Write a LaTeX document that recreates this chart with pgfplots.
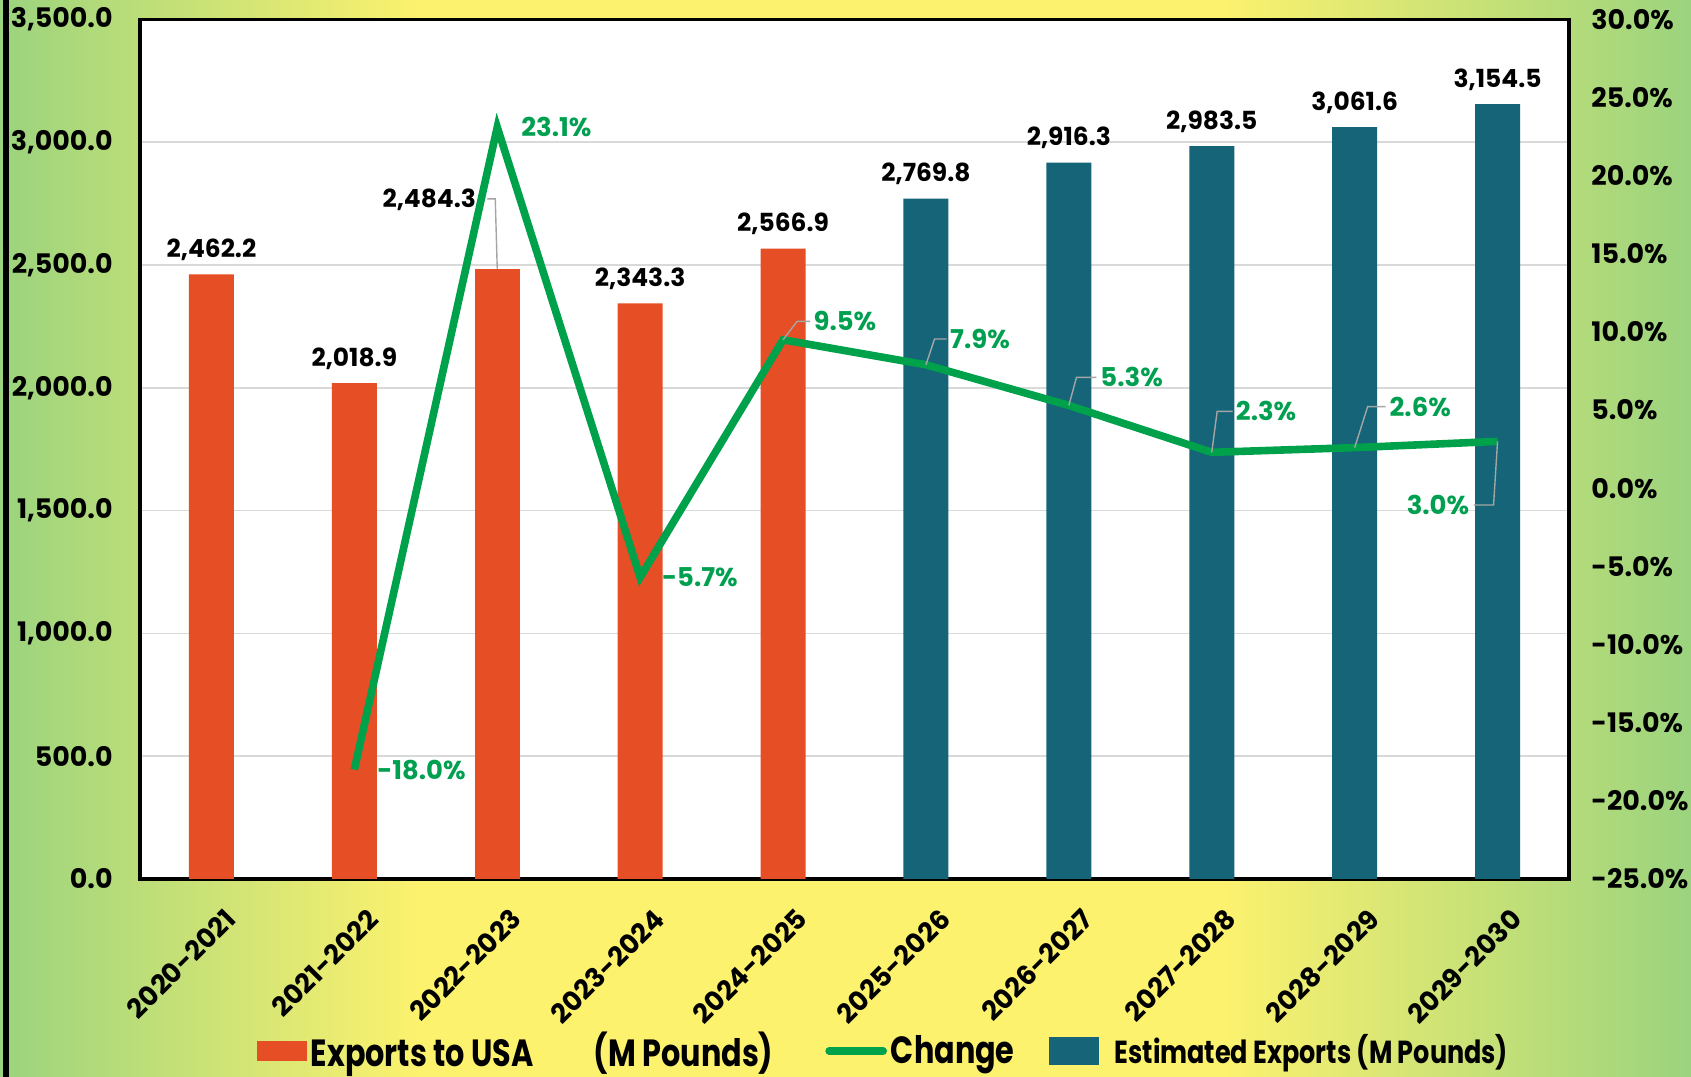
\documentclass[border=0pt]{standalone}
\usepackage{fontspec}
\setmainfont{Poppins}
\newfontfamily\condfont[FakeStretch=0.8]{Poppins}
\usepackage{pgfplots}
\usepackage{pgfplotstable}
\pgfplotsset{compat=1.18}
\definecolor{bgG}{RGB}{155,211,126}
\definecolor{bgY}{RGB}{253,242,110}
\definecolor{barO}{RGB}{230,78,38}
\definecolor{barT}{RGB}{21,100,120}
\definecolor{lineG}{RGB}{0,161,75}
\definecolor{pctG}{RGB}{0,160,80}
\definecolor{gridG}{RGB}{217,217,217}
\definecolor{leadG}{RGB}{165,165,165}

\pgfplotstableread{
x y
0 2462.2
1 2018.9
3 2343.3
4 2566.9
}\actual
\pgfplotstableread{
x y
2 2484.3
}\actualB
\pgfplotstableread{
x y
5 2769.8
6 2916.3
7 2983.5
8 3061.6
9 3154.5
}\est
\pgfplotstableread{
x y
1 -18.0
2 23.1
3 -5.7
4 9.5
5 7.9
6 5.3
7 2.3
8 2.6
9 3.0
}\chg

\tikzset{
  pct/.style={font=\fontsize{13}{15}\selectfont\bfseries, text=pctG, inner sep=0pt},
  lead/.style={leadG, line width=0.7bp},
  barlab/.style={font=\fontsize{12.5}{15}\selectfont\bfseries, text=black, inner sep=0pt, anchor=base},
}
\begin{document}
\begin{tikzpicture}
\useasboundingbox (0,0) rectangle (845.5bp,538.5bp);
\shade[left color=bgG, right color=bgY] (0,0) rectangle (211bp,538.5bp);
\fill[bgY] (210.5bp,0) rectangle (609.5bp,538.5bp);
\shade[left color=bgY, right color=bgG] (609bp,0) rectangle (845.5bp,538.5bp);
\fill[black] (1.5bp,0) rectangle (4.5bp,538.5bp);
\pgfplotsset{
  common/.style={
    at={(70bp,99bp)}, anchor=south west,
    scale only axis, width=714.5bp, height=429.8bp,
    xmin=-0.5, xmax=9.5,
    tick label style={font=\fontsize{13.5}{16}\selectfont\bfseries},
    /pgf/number format/assume math mode=true,
    /pgf/number format/fixed,
    /pgf/number format/fixed zerofill,
    /pgf/number format/precision=1,
    /pgf/number format/1000 sep={,},
    major tick length=0pt,
  },
}
\begin{axis}[common,
  axis background/.style={fill=white},
  ymin=0, ymax=3500, ytick={0,500,...,3500},
  ymajorgrids, grid style={gridG, line width=0.8bp},
  axis line style={black, line width=1.6bp},
  xtick={0,...,9},
  xticklabels={2020-2021,2021-2022,2022-2023,2023-2024,2024-2025,2025-2026,2026-2027,2027-2028,2028-2029,2029-2030},
  xticklabel style={rotate=45, anchor=north east, inner sep=0pt, xshift=-5.5bp, yshift=-14bp},
  yticklabel style={anchor=east, inner sep=0pt, xshift=-13.5bp},
  legend columns=3,
  legend style={at={(0.521,-0.2),}, anchor=center, draw=none, fill=none,
    font=\condfont\bfseries,
    /tikz/every even column/.append style={column sep=0bp}},
]
\addplot[ybar, bar width=22.5bp, bar shift=0pt, fill=barO, draw=none,
  nodes near coords, every node near coord/.append style={barlab, yshift=8.5bp},
  legend image code/.code={\fill[barO] (0bp,-5bp) rectangle (25bp,5bp);}]
  table[x=x,y=y] {\actual};
\addlegendentry{\fontsize{19}{21}\selectfont Exports to USA\hspace*{30bp}(M Pounds)\hspace*{24bp}\mbox{}}
\addplot[ybar, bar width=22.5bp, bar shift=0pt, fill=barO, draw=none, forget plot,
  nodes near coords, every node near coord/.append style={barlab, xshift=-34bp, yshift=30.5bp}]
  table[x=x,y=y] {\actualB};
\addlegendimage{legend image code/.code={\draw[lineG, line width=3.8bp, line cap=round] (0bp,0bp) -- (27bp,0bp);}}
\addlegendentry{\fontsize{19}{21}\selectfont Change\hspace*{15bp}\mbox{}}
\addplot[ybar, bar width=22.5bp, bar shift=0pt, fill=barT, draw=none,
  nodes near coords, every node near coord/.append style={barlab, yshift=8.5bp},
  legend image code/.code={\fill[barT] (0bp,-7bp) rectangle (25bp,7bp);}]
  table[x=x,y=y] {\est};
\addlegendentry{\fontsize{16}{18}\selectfont\hspace*{6bp}Estimated Exports (M Pounds)}
\draw[lead] ([xshift=-5bp,yshift=35bp]axis cs:2,2484.3) -- ([xshift=-1bp,yshift=35bp]axis cs:2,2484.3) -- (axis cs:2,2484.3);
\end{axis}
\begin{axis}[common,
  ymin=-25, ymax=30, ytick={-25,-20,...,30},
  axis y line*=right, axis x line=none,
  y axis line style={draw=none},
  yticklabel={\pgfmathprintnumber{\tick}\%},
  yticklabel style={anchor=west, inner sep=0pt, xshift=11bp},
]
\addplot[lineG, line width=3.8bp, mark=none] table[x=x,y=y] {\chg};
\node[pct, anchor=west] at ([xshift=11.3bp]axis cs:1,-18.0) {-18.0\%};
\node[pct, anchor=west] at ([xshift=11.9bp]axis cs:2,23.1) {23.1\%};
\node[pct, anchor=west] at ([xshift=10.8bp]axis cs:3,-5.7) {-5.7\%};
\draw[lead] (axis cs:4,9.5) -- ([xshift=7bp,yshift=9.2bp]axis cs:4,9.5) -- ([xshift=13.5bp,yshift=9.2bp]axis cs:4,9.5);
\node[pct, anchor=west] at ([xshift=15.1bp,yshift=9.2bp]axis cs:4,9.5) {9.5\%};
\draw[lead] (axis cs:5,7.9) -- ([xshift=4.3bp,yshift=12.9bp]axis cs:5,7.9) -- ([xshift=10.3bp,yshift=12.9bp]axis cs:5,7.9);
\node[pct, anchor=west] at ([xshift=11.9bp,yshift=12.9bp]axis cs:5,7.9) {7.9\%};
\draw[lead] (axis cs:6,5.3) -- ([xshift=3.8bp,yshift=14bp]axis cs:6,5.3) -- ([xshift=13.8bp,yshift=14bp]axis cs:6,5.3);
\node[pct, anchor=west] at ([xshift=15.6bp,yshift=14bp]axis cs:6,5.3) {5.3\%};
\draw[lead] (axis cs:7,2.3) -- ([xshift=2.7bp,yshift=20.5bp]axis cs:7,2.3) -- ([xshift=10.4bp,yshift=20.5bp]axis cs:7,2.3);
\node[pct, anchor=west] at ([xshift=11.9bp,yshift=20.5bp]axis cs:7,2.3) {2.3\%};
\draw[lead] (axis cs:8,2.6) -- ([xshift=6.5bp,yshift=20.5bp]axis cs:8,2.6) -- ([xshift=15.5bp,yshift=20.5bp]axis cs:8,2.6);
\node[pct, anchor=west] at ([xshift=17.3bp,yshift=20.5bp]axis cs:8,2.6) {2.6\%};
\draw[lead] (axis cs:9,3.0) -- ([xshift=-2bp,yshift=-31.8bp]axis cs:9,3.0) -- ([xshift=-12bp,yshift=-31.8bp]axis cs:9,3.0);
\node[pct, anchor=east] at ([xshift=-14bp,yshift=-31.8bp]axis cs:9,3.0) {3.0\%};
\end{axis}
\end{tikzpicture}
\end{document}
